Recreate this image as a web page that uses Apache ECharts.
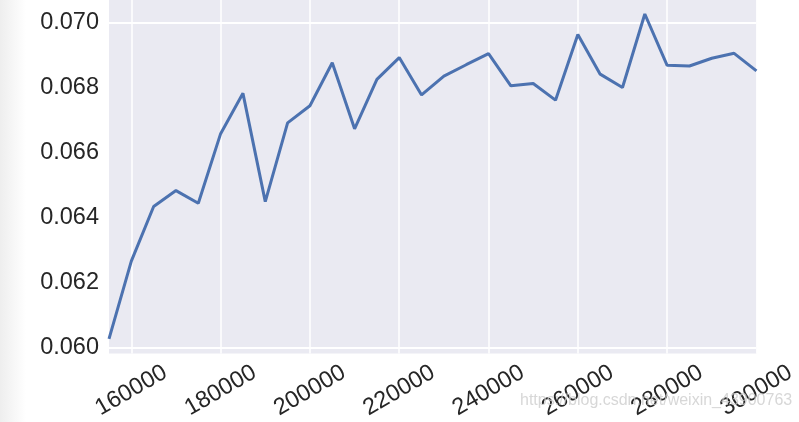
<!DOCTYPE html>
<html>
<head>
<meta charset="utf-8">
<script src="https://cdn.jsdelivr.net/npm/echarts@6/dist/echarts.min.js"></script>
<style>
html,body{margin:0;padding:0;background:#fff;}
#main{width:799px;height:422px;}
</style>
</head>
<body>
<div id="main"></div>
<script>
const xValues = [155000,160000,165000,170000,175000,180000,185000,190000,195000,200000,
  205000,210000,215000,220000,225000,230000,235000,240000,245000,250000,
  255000,260000,265000,270000,275000,280000,285000,290000,295000,300000];
const yValues = [0.06027,0.06266,0.06434,0.06483,0.06444,0.06658,0.06782,0.06449,0.06691,0.06744,
  0.06876,0.06673,0.06825,0.06892,0.06777,0.06835,0.06870,0.06904,0.06805,0.06812,
  0.06761,0.06963,0.06841,0.06800,0.07026,0.06868,0.06866,0.06890,0.06905,0.06851];
const xTicks = [160000,180000,200000,220000,240000,260000,280000,300000];
const yTicks = [0.060,0.062,0.064,0.066,0.068,0.070];
const watermark = 'https://blog.csdn.net/weixin_43900763';

const chart = echarts.init(document.getElementById('main'), null, {renderer:'canvas'});
const font = '"Liberation Sans", Arial, sans-serif';
chart.setOption({
  animation:false,
  backgroundColor:'#ffffff',
  grid:{left:109, right:42, top:0, bottom:65, show:true, backgroundColor:'#EAEAF2', borderWidth:0},
  xAxis:{
    type:'value', min:155000, max:300000,
    axisLine:{show:false}, axisTick:{show:false},
    splitLine:{show:false},
    axisLabel:{
      customValues:xTicks,
      rotate:30, align:'center', verticalAlign:'middle', margin:37,
      fontFamily:font, fontSize:23.5, color:'#262626',
      formatter:v=>String(v)
    }
  },
  yAxis:{
    type:'value', min:0.05982, max:0.07069,
    axisLine:{show:false}, axisTick:{show:false},
    splitLine:{show:false},
    axisLabel:{
      customValues:yTicks,
      margin:10, fontFamily:font, fontSize:23.5, color:'#262626',
      formatter:v=>v.toFixed(3)
    }
  },
  series:[
    {type:'line', data:xTicks.map(v=>[v,null]), silent:true, symbol:'none',
     markLine:{silent:true, symbol:'none', label:{show:false},
       lineStyle:{color:'#ffffff', width:1.5, type:'solid'},
       data:xTicks.map(v=>({xAxis:v})).concat(yTicks.map(v=>({yAxis:v})))}},
    {type:'line', data:xValues.map((x,i)=>[x,yValues[i]]), symbol:'none',
     lineStyle:{color:'#4C72B0', width:3}, itemStyle:{color:'#4C72B0'}, z:5}
  ],
  graphic:[
    {type:'rect', left:0, top:0, z:-1, shape:{width:26, height:422},
     style:{fill:new echarts.graphic.LinearGradient(0,0,1,0,[{offset:0,color:'#eeeeee'},{offset:1,color:'#ffffff'}])}},
    {type:'text', left:520, top:393, z:100,
     style:{text:watermark, font:'16px "Liberation Sans", Arial, sans-serif', fill:'rgba(205,205,205,0.8)'}}
  ]
});
</script>
</body>
</html>
